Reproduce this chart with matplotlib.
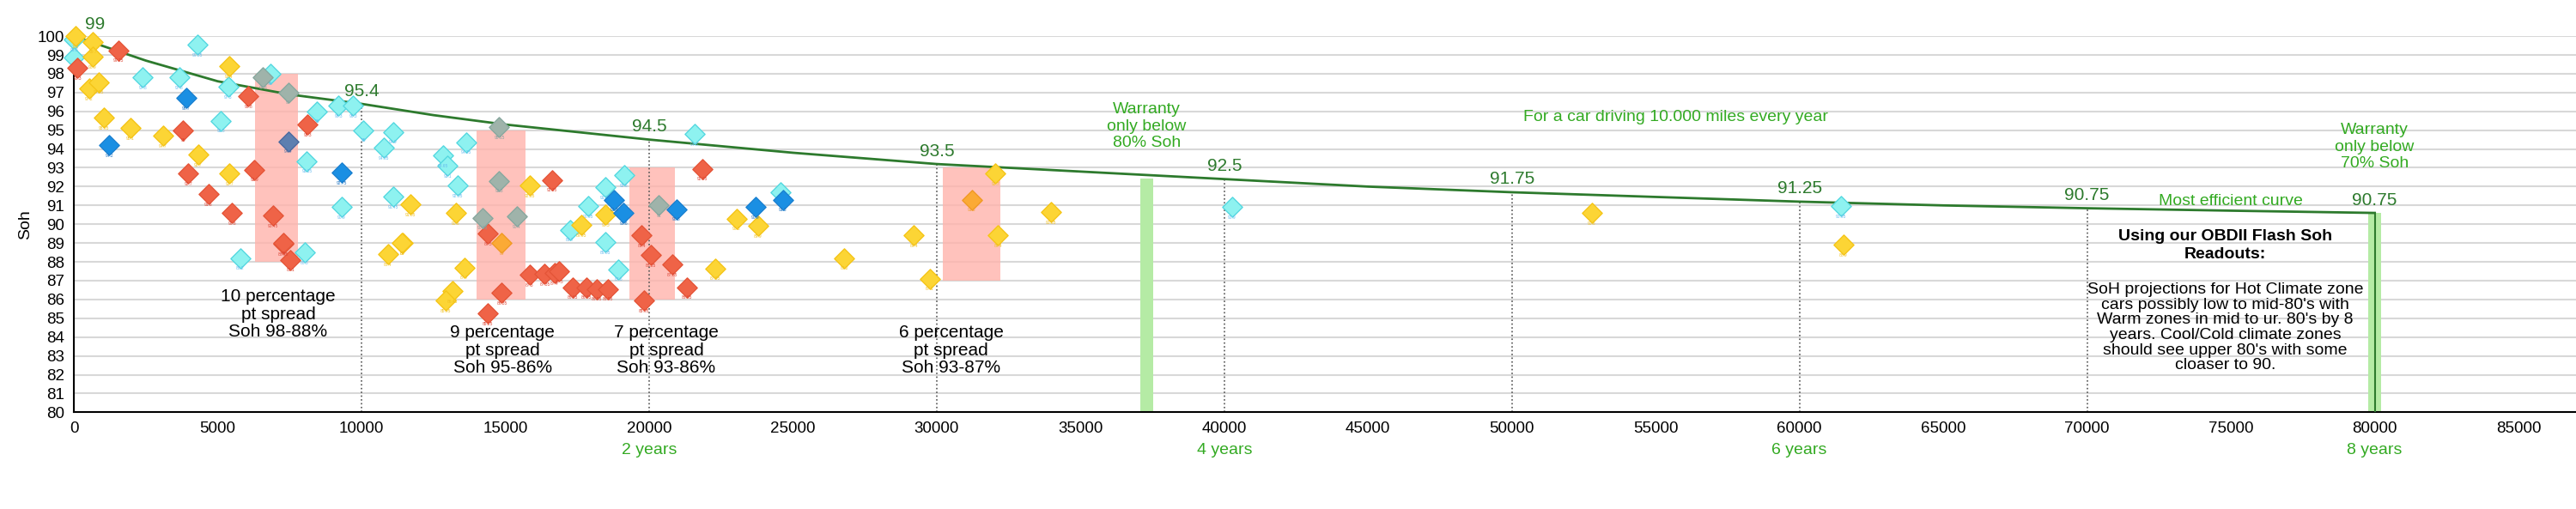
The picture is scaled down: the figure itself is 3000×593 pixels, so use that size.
import matplotlib
matplotlib.use("Agg")
import matplotlib.pyplot as plt
from matplotlib.patches import Rectangle

# mileage / Soh readouts grouped by marker colour
cyan_x = [0, 0, 2400, 3660, 4300, 5110, 5370, 6830, 8460, 8100, 9300, 9200, 9710, 10070,
          11090, 10770, 11100, 12840, 12990, 13640, 13340, 17250, 17870, 5780, 8020, 18940,
          18470, 18490, 19130, 21570, 24570, 40270, 61430]
cyan_y = [99.8, 98.85, 97.8, 97.8, 99.55, 95.5, 97.3, 98.0, 96.0, 93.35, 90.9, 96.3, 96.3, 95.0,
          94.9, 94.05, 91.45, 93.65, 93.1, 94.35, 92.05, 89.7, 90.95, 88.2, 88.5, 87.6,
          89.05, 91.97, 92.6, 94.8, 91.7, 90.9, 90.95]
yellow_x = [60, 660, 640, 520, 870, 1040, 1960, 3100, 4320, 5410, 5400, 11710, 11420, 13270,
            15860, 17650, 10920, 11410, 13580, 13150, 12920, 22300, 18490, 23040, 23790,
            26790, 29210, 29760, 32040, 32130, 33960, 52780, 61520]
yellow_y = [100.0, 99.7, 98.9, 97.2, 97.55, 95.65, 95.1, 94.7, 93.7, 92.7, 98.4, 91.05, 89.0, 90.6,
            92.05, 89.95, 88.4, 89.0, 87.7, 86.45, 85.95, 87.65, 90.5, 90.3, 89.9,
            88.2, 89.4, 87.1, 92.7, 89.4, 90.65, 90.6, 88.9]
red_x = [120, 1560, 3800, 3970, 4670, 5500, 6070, 6270, 6930, 7280, 8120, 14400, 16620,
         7290, 7530, 14380, 14880, 15850, 16370, 16710, 16880, 17340, 17830, 18170, 18560,
         19810, 20050, 20810, 21300, 19740, 21860]
red_y = [98.3, 99.25, 95.0, 92.7, 91.6, 90.6, 96.8, 92.9, 90.45, 88.95, 95.3, 89.5, 92.35,
         89.0, 88.1, 85.25, 86.35, 87.3, 87.35, 87.4, 87.5, 86.65, 86.65, 86.55, 86.55,
         85.95, 88.35, 87.85, 86.65, 89.4, 92.95]
blue_x = [1230, 3900, 9300, 18780, 19110, 20950, 23700, 24650]
blue_y = [94.2, 96.7, 92.75, 91.3, 90.6, 90.8, 90.9, 91.3]
gray_x = [6580, 7450, 14790, 14790, 14200, 15400, 20340]
gray_y = [97.8, 97.0, 95.15, 92.3, 90.35, 90.4, 91.0]
slate_x = [7450]
slate_y = [94.4]
orange_x = [14870, 31220]
orange_y = [89.0, 91.3]

# most efficient curve
curve_x = [0, 2500, 5000, 7500, 10000, 12500, 15000, 17500, 20000, 25000, 30000, 35000,
           40000, 45000, 50000, 55000, 60000, 65000, 70000, 75000, 80000]
curve_y = [100, 98.7, 97.6, 96.9, 96.4, 95.8, 95.3, 94.9, 94.5, 93.8, 93.2, 92.8,
           92.4, 92.0, 91.7, 91.45, 91.2, 91.0, 90.85, 90.72, 90.6]
mark_x = [10000, 20000, 30000, 40000, 50000, 60000, 70000]
mark_lbl = ["95.4", "94.5", "93.5", "92.5", "91.75", "91.25", "90.75"]
year_x = [20000, 40000, 60000, 80000]
year_lbl = ["2 years", "4 years", "6 years", "8 years"]

# spread boxes: x0, x1, y0, y1
spreads = [(6300, 7800, 88, 98), (14000, 15700, 86, 95), (19300, 20900, 86, 93), (30200, 32200, 87, 93)]
spread_txt = ["10 percentage\npt spread\nSoh 98-88%", "9 percentage\npt spread\nSoh 95-86%",
              "7 percentage\npt spread\nSoh 93-86%", "6 percentage\npt spread\nSoh 93-87%"]
spread_pos = [(7100, 85.2), (14900, 83.3), (20600, 83.3), (30500, 83.3)]

plt.rcParams['font.family'] = ['Liberation Sans', 'DejaVu Sans']
fig = plt.figure(figsize=(30, 5.93), dpi=100)
ax = fig.add_axes([0.0287, 0.19, 0.9713, 0.739])
ax.set_xlim(0, 87000)
ax.set_ylim(80, 100)
ax.set_yticks(range(80, 101))
ax.set_xticks(range(0, 87000, 5000))
ax.tick_params(labelsize=13.5, length=0, pad=8)
ax.grid(axis='y', color='#d8d8d8', lw=1.5)
ax.set_axisbelow(True)
for s in ['top', 'right']:
    ax.spines[s].set_visible(False)
ax.spines['left'].set_linewidth(1.5)
ax.spines['bottom'].set_linewidth(1.5)
ax.set_ylabel("Soh", fontsize=14)

for (x0, x1, y0, y1) in spreads:
    ax.add_patch(Rectangle((x0, y0), x1 - x0, y1 - y0, color='#ffb3ab', alpha=0.8, zorder=1, lw=0))
for t, (px, py) in zip(spread_txt, spread_pos):
    ax.text(px, py, t, ha='center', va='center', fontsize=15, linespacing=1.1)

for mx in mark_x:
    ax.plot([mx, mx], [80, curve_y[curve_x.index(mx)]], color='#555555', ls=':', lw=1.2, zorder=2)
ax.plot(curve_x, curve_y, color='#2d7a2d', lw=2, zorder=3)
for mx, ml in zip(mark_x, mark_lbl):
    ax.text(mx, curve_y[curve_x.index(mx)] + 0.25, ml, ha='center', va='bottom',
            fontsize=15, color='#2d7a2d')
ax.text(400, 100.2, "99", fontsize=15, color='#2d7a2d', va='bottom', clip_on=False)
ax.text(80000, 90.85, "90.75", ha='center', va='bottom', fontsize=15, color='#2d7a2d')
ax.text(75000, 90.85, "Most efficient curve", ha='center', va='bottom', fontsize=14, color='#33aa22')

ax.bar([37300, 80000], [92.45 - 80, 90.6 - 80], bottom=80, width=450, color='#b5eba5', zorder=2)
ax.plot([80000, 80000], [80, 90.6], color='#2d7a2d', lw=1.5, zorder=3)
ax.text(37300, 95.2, "Warranty\nonly below\n80% Soh", ha='center', va='center', fontsize=14, color='#33aa22')
ax.text(80000, 94.1, "Warranty\nonly below\n70% Soh", ha='center', va='center', fontsize=14, color='#33aa22')
ax.text(55700, 95.7, "For a car driving 10.000 miles every year", ha='center', va='center',
        fontsize=14, color='#33aa22')
ax.text(74800, 88.85, "Using our OBDII Flash Soh\nReadouts:", ha='center', va='center',
        fontsize=14, fontweight='bold', linespacing=1.3)
ax.text(74800, 84.5, "SoH projections for Hot Climate zone\ncars possibly low to mid-80's with\n"
        "Warm zones in mid to ur. 80's by 8\nyears. Cool/Cold climate zones\n"
        "should see upper 80's with some\ncloaser to 90.", ha='center', va='center',
        fontsize=14, linespacing=1.05)

groups = [(cyan_x, cyan_y, '#8ef2f0', '#55d8e0', '#66bbee'),
          (yellow_x, yellow_y, '#fcd535', '#f5c518', '#f0c020'),
          (red_x, red_y, '#ef6347', '#e55538', '#dd4433'),
          (blue_x, blue_y, '#1a8fe3', '#1a80d0', '#1a70c0'),
          (gray_x, gray_y, '#9fb3aa', '#88a89f', '#88a0a0'),
          (slate_x, slate_y, '#5d7fb0', '#4a6aa0', '#4a6aa0'),
          (orange_x, orange_y, '#fbaa35', '#f09a25', '#f0a030')]
for xs, ys, fc, ec, tc in groups:
    ax.scatter(xs, ys, marker='D', s=140, color=fc, edgecolors=ec, linewidths=1,
               zorder=4, clip_on=False)
    for x, y in zip(xs, ys):
        ax.text(x, y - 0.55, f"{y:g}", ha='center', va='center', fontsize=3.5, color=tc, zorder=4)

for yx, yl in zip(year_x, year_lbl):
    ax.text(yx, 78.0, yl, ha='center', va='center', fontsize=14, color='#33aa22', clip_on=False)

fig.savefig("out.png", dpi=100)
